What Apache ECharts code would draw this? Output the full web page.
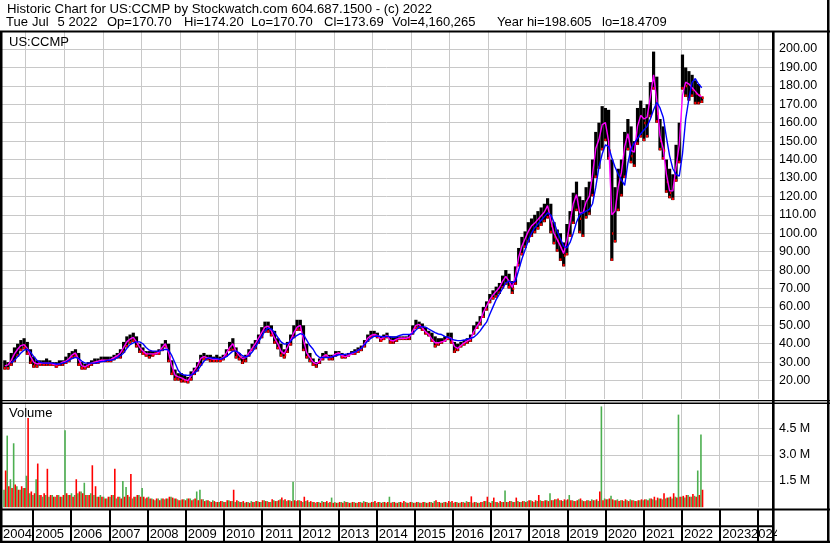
<!DOCTYPE html>
<html><head><meta charset="utf-8">
<script src="https://cdn.jsdelivr.net/npm/echarts@6/dist/echarts.min.js"></script>
<style>html,body{margin:0;padding:0;background:#fff}#c{width:830px;height:543px}</style>
</head><body><div id="c"></div>
<script>
// ---- data: monthly, Jun 2004 .. Jul 2022 ----
const startYear = 2004, startMonth = 6;
const lows = [
 26,26,28,30,33,36,37,
 34,29,27,27,28,28,28,28,28,27,28,28,
 29,30,32,33,28,26,26,27,28,29,29,30,
 30,30,30,31,32,32,35,38,40,41,38,35,
 34,33,32,33,34,34,36,38,30,23,20,20,
 19,19,18.5,20,23,25,28,31,31,30,30,30,
 30,31,33,36,36,32,31,29,30,33,36,37,
 40,43,46,46,44,40,37,33,32,35,39,43,
 47,47,36,32,30,28,27,29,31,33,31,31,
 33,34,32,32,33,34,34,35,36,38,41,43,
 44,43,41,42,43,40,40,41,42,42,42,42,
 45,48,48,47,45,44,41,38,39,40,41,42,
 40,35,36,38,39,40,41,45,48,50,54,58,
 62,64,65,67,70,72,70,67,72,82,88,92,
 95,98,100,102,104,106,108,100,94,90,85,82,
 88,98,105,112,100,98,108,110,120,130,135,145,
 150,140,85,95,112,120,130,145,138,136,148,152,
 150,152,163,178,160,145,140,122,119,118,128,138,
 178,174,172,174,170,170,170.7
];
const highs = [
 31,30,35,38,40,42,43,
 41,37,33,31,31,31,32,31,30,30,31,31,
 33,35,36,37,35,30,29,30,31,32,32,33,
 33,33,33,34,35,37,41,44,45,46,44,40,
 38,36,36,36,36,37,40,42,40,31,26,24,
 24,23,22,25,27,30,34,35,34,34,33,34,
 33,34,37,41,43,38,35,33,34,37,40,42,
 45,49,52,52,50,47,43,40,37,41,45,50,
 53,53,50,40,35,32,30,32,35,36,34,34,
 36,36,35,34,35,36,37,38,39,42,45,47,
 47,46,44,45,46,44,44,44,44,44,44,45,
 50,53,52,51,49,47,46,44,43,43,44,46,
 46,41,40,41,42,43,45,50,52,55,60,63,
 67,69,71,73,77,80,78,74,82,92,98,101,
 106,108,110,112,114,116,119,116,106,102,100,95,
 105,112,122,128,120,118,125,128,140,155,160,169,
 168,167,140,125,135,140,155,162,158,150,168,172,
 168,170,182,198.6,185,162,158,140,135,132,148,160,
 197,190,188,186,183,181,174.2
];
const closes = [
 28,29,33,36,38,40,39,
 36,31,29,29,30,29,30,29,29,28,30,30,
 31,33,35,35,29,27,28,29,30,30,31,31,
 31,31,32,33,34,36,39,42,43,44,40,37,
 35,34,35,34,35,36,39,40,33,25,22,22,
 21,20,20,24,26,29,33,33,32,32,31,32,
 31,33,36,39,40,34,33,31,33,36,38,41,
 44,47,50,49,46,42,39,35,34,39,43,47,
 50,50,40,34,32,29,29,31,34,34,32,33,
 35,35,33,33,34,35,36,37,38,41,44,45,
 45,44,42,44,45,41,42,43,43,43,43,44,
 48,51,50,48,46,45,42,40,41,41,42,44,
 42,37,38,40,41,42,43,48,50,53,58,61,
 65,67,69,71,75,77,72,70,80,90,94,98,
 103,104,106,108,110,112,116,104,98,96,92,88,
 100,108,118,122,108,112,118,120,135,148,152,160,
 160,145,100,118,128,135,150,155,142,145,162,165,
 160,165,178,188,165,150,145,128,122,124,140,150,
 185,180,182,178,176,175,173.69
];
const maShort = [
 28,28.5,31,34.5,37,39,39.5,
 37.5,33,30,29,29.5,29.5,29.5,29.5,29,28.5,29,30,
 30.5,32,34,35,31.5,28,27.5,28.5,29.5,30,30.5,31,
 31,31,31.5,32.5,33.5,35,38,41,42.5,43.5,41,38,
 36,34.5,34.5,34.5,34.5,35.5,38,40,35,28,23,22,
 21.5,20.5,20,22.5,25.5,28,32,33,32.5,32,31.5,31.5,
 31.5,32.5,35,38,40,36,33.5,32,32.5,35,37.5,40,
 43,46,49,49.5,47,43,40,36,34.5,38,42,46,
 49,50,42,35,32.5,30,29,30.5,33,34,32.5,33,
 34.5,35,33.5,33,33.5,34.5,35.5,36.5,37.5,40,43,44.5,
 45,44.5,42.5,43.5,44.5,42,41.5,42.5,43,43,43,43.5,
 47,50,50.5,48.5,46.5,45,42.5,40.5,40.5,41,41.5,43.5,
 43,38.5,37.5,39,40.5,41.5,42.5,46.5,49.5,52,57,60.5,
 64,66.5,68.5,70.5,74,76.5,74,70.5,77,87,93,97,
 101,104,105.5,107.5,109.5,111.5,115,107,100,96.5,93,89,
 96,106,116,121,111,111,117,120,132,146,151,159,
 160,150,110,112,125,133,147,154,145,144,158,164,
 162,163,174,186,172,153,146,132,123,123,136,148,
 175,182,181,179,177,175,174
];
const maLong = [
 null,null,29.5,31,33,35,36.5,
 37,35.5,33,31,30,29.5,29.5,29.5,29.5,29,29,29.5,
 30,31,32,32.6,32,30.5,29.5,29.5,29.5,29.5,29.8,30.3,
 30.5,31,31,31.5,32.5,33.5,35,37.5,39.5,40.5,41,41,
 40,38,36.5,36,36,36,36.5,37,36.5,33.5,29.5,25.5,
 23.5,23,22.8,23,24,25.5,28,30.5,32,32.5,32,32,
 31.5,32,33,34.5,36,36,35,33.5,32.8,33.5,35.5,38,
 41,44,47,48.5,48,46,43.5,41,39.8,40,41.5,43.5,
 44.5,45.5,45,42,39,37,34,32.5,32.5,32.5,32.5,33,
 33.5,34,34.2,34.3,34.5,35,35.5,36.5,37.5,39.6,41.5,43,
 44,44.2,44,43.8,44,43.8,43.5,43.8,44.5,45,45,45,
 45.5,47.5,49,49.3,49,48,47,46,45.3,45,44,43.5,
 42.6,42,41.7,41.7,42,42.5,43,43.5,45,47,49.5,51.7,
 56,60,64,67,70,73,74,73,74,80,86,91,
 96,100,103,105,107,109,111,110,106,101,97,93,
 92,95,100,106,110,111,112,113,116,125,136,143,
 148,147,141,136,132,129,126,138,146,149,151.5,154,
 156,158,162,167,171,168,163,152,142,135,132,131,
 143,162,173,182,184,181,179
];
// volume in millions: up-day and down-day bars per month
const volUp = [
 1.0,4.1,1.6,3.66,1.2,1.0,1.1,
 1.8,0.8,0.7,1.6,0.7,0.6,0.7,0.6,0.7,0.6,0.7,0.6,
 4.4,0.7,0.8,0.7,0.8,0.9,1.4,0.7,0.8,0.7,0.6,0.7,
 0.6,0.5,0.6,0.7,0.5,0.6,1.5,1.15,0.6,0.5,0.6,0.7,
 1.1,0.5,0.6,0.5,0.4,0.5,0.5,0.45,0.5,0.6,0.5,0.45,
 0.4,0.45,0.5,0.5,0.45,0.9,1.0,0.45,0.4,0.35,0.4,0.3,
 0.3,0.35,0.3,0.4,0.35,0.3,0.35,0.3,0.25,0.3,0.35,0.3,
 0.35,0.3,0.4,0.35,0.3,0.4,0.35,0.45,0.4,0.35,0.4,1.45,
 0.35,0.4,0.3,0.35,0.3,0.3,0.25,0.3,0.35,0.3,0.25,0.55,
 0.3,0.25,0.3,0.35,0.3,0.25,0.3,0.25,0.3,0.35,0.3,0.25,
 0.3,0.25,0.3,0.3,0.25,0.6,0.3,0.25,0.3,0.25,0.3,0.25,
 0.3,0.25,0.3,0.25,0.3,0.25,0.3,0.35,0.3,0.25,0.3,0.25,
 0.3,0.25,0.3,0.25,0.3,0.35,0.3,0.25,0.3,0.25,0.3,0.35,
 0.3,0.35,0.3,0.25,0.3,0.95,0.3,0.35,0.3,0.35,0.3,0.35,
 0.35,0.4,0.3,0.35,0.4,0.35,0.4,0.8,0.4,0.45,0.4,0.35,
 0.4,0.7,0.4,0.35,0.45,0.4,0.35,0.4,0.45,0.4,0.35,5.77,
 0.5,0.45,0.65,0.4,0.45,0.4,0.35,0.4,0.45,0.4,0.35,0.4,
 0.4,0.45,0.5,0.45,0.4,0.5,0.45,0.5,0.55,0.5,0.6,5.3,
 0.6,0.55,0.7,0.6,0.65,2.1,4.16
];
const volDown = [
 2.1,1.2,1.1,1.3,1.0,1.2,1.1,
 5.1,0.9,0.8,2.5,0.7,0.8,2.2,0.7,0.6,0.7,0.6,0.7,
 0.8,0.7,0.6,1.6,0.9,0.8,0.7,0.7,2.4,1.2,0.6,0.6,
 0.5,0.6,0.7,2.2,0.6,0.5,0.6,0.7,1.9,0.6,0.7,0.6,
 0.6,0.55,0.5,0.45,0.5,0.4,0.5,0.5,0.6,0.55,0.5,0.4,
 0.45,0.4,0.5,0.4,0.5,0.4,0.45,0.35,0.4,0.3,0.35,0.3,
 0.35,0.3,0.4,0.35,1.0,0.4,0.3,0.35,0.3,0.25,0.3,0.35,
 0.3,0.4,0.35,0.3,0.45,0.35,0.4,0.55,0.45,0.4,0.35,0.4,
 0.4,0.35,0.6,0.4,0.35,0.3,0.3,0.25,0.3,0.35,0.3,0.25,
 0.25,0.3,0.25,0.3,0.25,0.3,0.25,0.3,0.25,0.3,0.25,0.3,
 0.35,0.3,0.25,0.3,0.3,0.25,0.3,0.25,0.3,0.35,0.25,0.3,
 0.25,0.3,0.25,0.3,0.25,0.3,0.25,0.4,0.3,0.25,0.3,0.35,
 0.35,0.3,0.25,0.3,0.25,0.3,0.62,0.3,0.25,0.3,0.35,0.6,
 0.25,0.55,0.3,0.35,0.3,0.3,0.35,0.3,0.55,0.3,0.35,0.3,
 0.4,0.35,0.4,0.7,0.35,0.4,0.35,0.4,0.45,0.5,0.4,0.45,
 0.45,0.4,0.35,0.4,0.5,0.35,0.4,0.35,0.4,0.45,0.9,0.4,
 0.45,0.5,0.45,0.4,0.35,0.4,0.45,0.35,0.4,0.35,0.4,0.45,
 0.45,0.4,0.5,0.6,0.55,0.5,0.8,0.55,0.6,0.8,0.55,0.6,
 0.65,0.7,0.6,0.75,0.6,0.7,1.0
];
const headerLine1 = 'Historic Chart for US:CCMP by Stockwatch.com 604.687.1500 - (c) 2022';
const headerTokens = ['Tue','Jul','5','2022','Op=170.70','Hi=174.20','Lo=170.70','Cl=173.69','Vol=4,160,265','Year hi=198.605','lo=18.4709'];
const headerTokenX = [6,32,57.5,68.5,107,184,251,324,392,497,602];
const symbolName = 'US:CCMP';

// ---- build (x unit: months since Jan 2000) ----
const BASE_YEAR = 2000;
const monthX = i => (startYear - BASE_YEAR) * 12 + (startMonth - 1) + i + 0.5;
const bars = lows.map((l, i) => [monthX(i), l, highs[i], closes[i], i > 0 && closes[i] < closes[i-1] ? 1 : 0]);
const shortLine = maShort.map((v, i) => [monthX(i), v]);
const longLine = maLong.map((v, i) => [monthX(i), v]).filter(d => d[1] != null);
const upData = volUp.map((v, i) => [monthX(i) - 0.25, v * 1e6]);
const downData = volDown.map((v, i) => [monthX(i) + 0.25, v * 1e6]);

const FONT = '"Liberation Sans", Arial, sans-serif';
const PX_PER_MONTH = 38.54 / 12;
const X_MIN = 52;                       // May 2004 at the left edge
const X_MAX = X_MIN + 773 / PX_PER_MONTH;
const X_MAX_LABEL = X_MIN + 781 / PX_PER_MONTH;
const GRAY = '#c8c8c8', CLEAR = 'rgba(0,0,0,0)';
const yearColors = c => Array.from({length: 12}, (_, k) => k === 8 ? c : CLEAR);

function xa(gi, extra) {
  return Object.assign({
    type: 'value', gridIndex: gi, min: X_MIN, max: X_MAX, interval: 1,
    axisLine: {show: false}, axisTick: {show: false}, axisLabel: {show: false},
    splitLine: {show: true, lineStyle: {color: yearColors(GRAY), width: 1}}
  }, extra || {});
}
const mainSplitColors = [];
for (let v = 10; v <= 210; v += 10) mainSplitColors.push(v === 10 || v === 210 ? CLEAR : GRAY);

function priceItem(params, api) {
  const x = api.value(0), lo = api.value(1), hi = api.value(2), cl = api.value(3), dn = api.value(4);
  const pH = api.coord([x, hi]), pL = api.coord([x, lo]), pC = api.coord([x, cl]);
  const children = [
    {type: 'rect', shape: {x: pH[0] - 1.6, y: pH[1], width: 3.2, height: Math.max(1, pL[1] - pH[1])}, style: {fill: '#000'}},
    {type: 'rect', shape: {x: pH[0] - 1, y: pL[1] - 2.5, width: 2, height: 2.5}, style: {fill: '#ff0000'}}
  ];
  if (dn) children.push({type: 'rect', shape: {x: pC[0] + 0.3, y: pC[1] - 1, width: 1.7, height: 2.5}, style: {fill: '#ff0000'}});
  return {type: 'group', children};
}
function volItem(color) {
  return function (params, api) {
    const x = api.value(0), v = api.value(1);
    const p0 = api.coord([x, 0]), p1 = api.coord([x, v]);
    return {type: 'rect', shape: {x: p0[0] - 0.8, y: p1[1], width: 1.6, height: p0[1] - p1[1]}, style: {fill: color}};
  };
}
function rect(x, y, w, h, fill) { return {type: 'rect', shape: {x, y, width: w, height: h}, style: {fill}, z: 100, silent: true}; }
function txt(text, x, y, size) {
  return {type: 'text', x, y, z: 101, silent: true, style: {text, fill: '#000', font: (size || 13) + 'px ' + FONT, verticalAlign: 'middle', align: 'left'}};
}

const graphic = [
  rect(777, 526.5, 49, 14.5, '#fff'),
  rect(0, 30.5, 830, 2, '#000'),
  rect(0, 31, 2.5, 512, '#000'),
  rect(772, 31, 2.6, 512, '#000'),
  rect(827, 0, 2.5, 543, '#000'),
  rect(0, 399.9, 830, 1.4, '#000'),
  rect(0, 402.6, 830, 1.4, '#000'),
  rect(0, 508.6, 830, 2, '#000'),
  rect(0, 525.3, 773, 2, '#000'),
  rect(0, 540.8, 830, 2.2, '#000'),
  txt(headerLine1, 7, 9.5, 13.2),
  txt(symbolName, 9, 42),
  txt('Volume', 9, 413)
];
headerTokens.forEach((t, i) => graphic.push(txt(t, headerTokenX[i], 22.5)));

const yearLabel = v => {
  if (Math.abs(v - Math.round(v)) < 1e-6) {
    const m = Math.round(v);
    if (m % 12 !== 0) return '';
    const y = BASE_YEAR + m / 12 - 1;
    return (m === X_MIN + 8 ? '{a|' : '{n|') + y + '}';
  }
  return '{a|' + Math.floor(BASE_YEAR + v / 12) + '}';
};
const LBL = {fontFamily: FONT, fontSize: 13, color: '#000'};

const option = {
  animation: false,
  backgroundColor: '#fff',
  grid: [
    {left: 0, right: 57, top: 30.6, height: 368.4},
    {left: 0, right: 57, top: 402.4, height: 104.8},
    {left: 0, right: 49, top: 510, height: 32}
  ],
  xAxis: [
    xa(0), xa(1),
    xa(2, {
      max: X_MAX_LABEL,
      splitLine: {show: true, lineStyle: {color: yearColors('#000'), width: 2}},
      axisLabel: {
        show: true, inside: true, margin: 8, align: 'right', verticalAlign: 'middle',
        color: '#000', fontFamily: FONT, fontSize: 13,
        formatter: yearLabel,
        rich: {n: Object.assign({padding: [0, 7, 0, 0]}, LBL), a: Object.assign({padding: [0, 1, 0, 0]}, LBL)}
      }
    })
  ],
  yAxis: [
    {type: 'value', gridIndex: 0, position: 'right', min: 10, max: 210, interval: 10,
      axisLine: {show: false}, axisTick: {show: false},
      axisLabel: {color: '#000', fontFamily: FONT, fontSize: 12.5, margin: 6, align: 'left',
        showMinLabel: false, showMaxLabel: false, formatter: v => v.toFixed(2)},
      splitLine: {show: true, lineStyle: {color: mainSplitColors, width: 1}}},
    {type: 'value', gridIndex: 1, position: 'right', min: 0, max: 6e6, interval: 1.5e6,
      axisLine: {show: false}, axisTick: {show: false},
      axisLabel: {color: '#000', fontFamily: FONT, fontSize: 12.5, margin: 6, align: 'left',
        showMinLabel: false, showMaxLabel: false, formatter: v => (v / 1e6).toFixed(1) + ' M'},
      splitLine: {show: true, lineStyle: {color: [CLEAR, GRAY, GRAY, GRAY, CLEAR], width: 1}}},
    {type: 'value', gridIndex: 2, show: false}
  ],
  series: [
    {type: 'custom', xAxisIndex: 0, yAxisIndex: 0, renderItem: priceItem, data: bars, z: 2, silent: true},
    {type: 'line', xAxisIndex: 0, yAxisIndex: 0, data: shortLine, showSymbol: false, z: 3, silent: true,
      lineStyle: {color: '#ff00ff', width: 1.4}},
    {type: 'line', xAxisIndex: 0, yAxisIndex: 0, data: longLine, showSymbol: false, z: 4, silent: true,
      lineStyle: {color: '#0000ff', width: 1.4}},
    {type: 'custom', xAxisIndex: 1, yAxisIndex: 1, renderItem: volItem('#4caf50'), data: upData, z: 2, silent: true},
    {type: 'custom', xAxisIndex: 1, yAxisIndex: 1, renderItem: volItem('#ff0000'), data: downData, z: 2, silent: true}
  ],
  graphic
};
const chart = echarts.init(document.getElementById('c'));
chart.setOption(option);
</script></body></html>
